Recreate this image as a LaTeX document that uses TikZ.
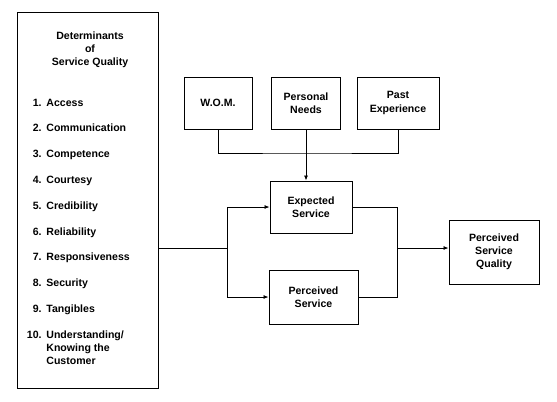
\documentclass[tikz,border=0pt]{standalone}
\usepackage{fontspec}
\setmainfont{Liberation Sans}
\usetikzlibrary{arrows.meta}

\tikzset{every picture/.style={line width=0.8pt}}
\tikzset{
    label/.style={align=center, inner sep=0pt,
        font=\fontsize{10.6}{13.2}\selectfont\bfseries},
    box/.style={label, draw, line width=0.95pt},
    item/.style={anchor=base west, inner sep=0pt, align=left,
        font=\fontsize{10.6}{13.2}\selectfont\bfseries},
    arr/.style={-{Latex[length=5pt,width=4pt]}}
}

\begin{document}
\begin{tikzpicture}[x=1bp, y=-1bp]
        \useasboundingbox[fill=white] (0,0) rectangle (557,401);
        % determinants
        \node[box, minimum width=141bp, minimum height=376bp] (det) at (87.5,200) {};
        \node[label, anchor=north] (title) at (90,31) {Determinants\\of\\Service Quality};
        \foreach \n/\t [count=\i] in {1./Access, 2./Communication, 3./Competence,
            4./Courtesy, 5./Credibility, 6./Reliability, 7./Responsiveness,
            8./Security, 9./Tangibles} {
            \node[item, anchor=base east] (num\i) at (42,{106+(\i-1)*25.8}) {\n};
            \node[item] (det\i) at (46,{106+(\i-1)*25.8}) {\t};
        }
        \node[item, anchor=base east] (num10) at (42,338) {10.};
        \node[item, anchor=north west] (det10) at (46,330) {Understanding/\\Knowing the\\Customer};
        % expectations
        \node[box, minimum width=68bp, minimum height=52bp] (wom) at (218,103) {W.O.M.};
        \node[box, minimum width=69bp, minimum height=52bp] (needs) at (306,103) {Personal\\Needs};
        \node[box, minimum width=82bp, minimum height=52bp] (past) at (398,103) {Past\\Experience};
        \node[box, minimum width=82bp, minimum height=52bp] (expected) at (311,207) {Expected\\Service};
        \node[box, minimum width=89bp, minimum height=54bp] (perceived) at (313.5,297) {Perceived\\Service};
        \node[box, minimum width=90bp, minimum height=64bp] (psq) at (494,252) {Perceived\\Service\\Quality};
        \coordinate (join) at (306,153);
        \coordinate (split) at (227,248);
        \coordinate (merge) at (397,248);
        \draw (wom.south) |- (join) -| (past.south);
        \draw[arr] (needs.south) -- (needs.south |- expected.north);
        \draw (split -| det.east) -- (split);
        \draw[arr] (split) |- (expected.west);
        \draw[arr] (split) |- (perceived.west);
        \draw (expected.east) -| (merge);
        \draw (perceived.east) -| (merge);
        \draw[arr] (merge) -- (merge -| psq.west);
    \end{tikzpicture}
\end{document}
